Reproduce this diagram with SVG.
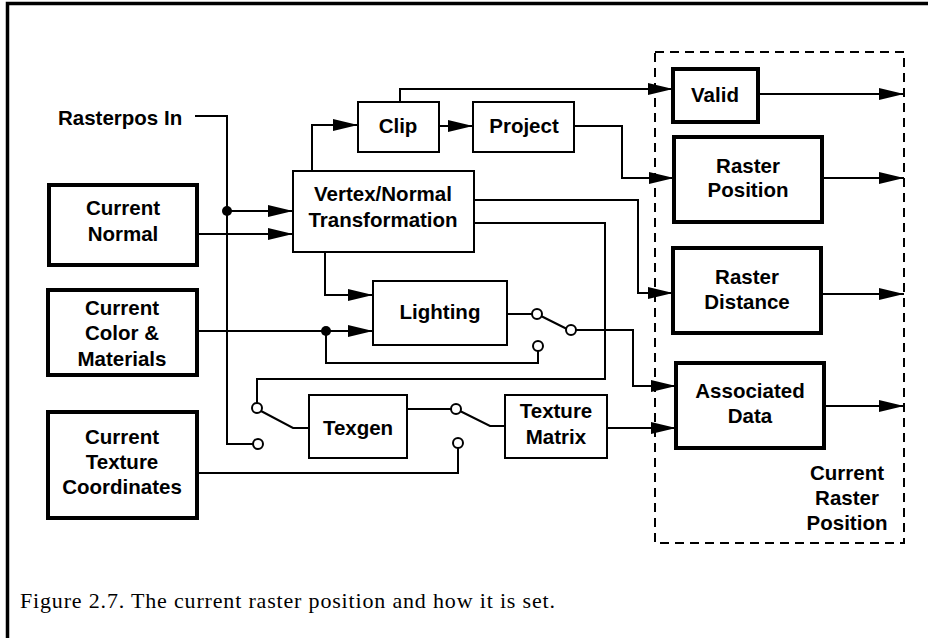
<svg xmlns="http://www.w3.org/2000/svg" width="928" height="638" viewBox="0 0 928 638">
<style>
.thin{fill:#fff;stroke:#000;stroke-width:2}
.thick{fill:#fff;stroke:#000;stroke-width:4}
.t{font-family:"Liberation Sans",Arial,sans-serif;font-weight:bold;font-size:20.5px;fill:#000;text-anchor:middle}
.w{fill:none;stroke:#000;stroke-width:2}
.a{fill:none;stroke:#000;stroke-width:2;marker-end:url(#ah)}
.sw{fill:#fff;stroke:#000;stroke-width:2}
</style>
<defs>
<marker id="ah" markerUnits="userSpaceOnUse" markerWidth="26" markerHeight="12" refX="25" refY="6" orient="auto" viewBox="0 0 26 12">
<path d="M0,0 L25,6 L0,12 z" fill="#000"/>
</marker>
</defs>
<rect width="928" height="638" fill="#fff"/>
<path d="M7.5,640 V3.5 H930" fill="none" stroke="#000" stroke-width="3.5"/>

<g id="connectors">
<path class="w" d="M195,116 H227 V444 H253"/>
<path class="a" d="M227,211 H293"/>
<path class="a" d="M197,234 H293"/>
<path class="a" d="M312,171 V125 H358"/>
<path class="a" d="M439,126 H473"/>
<path class="a" d="M400,102 V89 H673"/>
<path class="a" d="M574,126 H622 V178 H674"/>
<path class="a" d="M474,200 H638 V293 H673"/>
<path class="w" d="M474,223 H605 V379 H257 V403"/>
<path class="a" d="M325,252 V295 H373"/>
<path class="a" d="M197,331 H373"/>
<path class="w" d="M326,331 V363 H538 V351"/>
<path class="w" d="M507,314 H532"/>
<path class="w" d="M541,316 L567,329"/>
<path class="a" d="M576,330 H633 V386 H676"/>
<path class="w" d="M261,411 L293,428 H309"/>
<path class="w" d="M407,409 H451"/>
<path class="w" d="M460,411 L490,426 H505"/>
<path class="w" d="M197,473 H458 V448"/>
<path class="a" d="M607,428 H676"/>
<path class="a" d="M758,94 H904"/>
<path class="a" d="M822,178 H904"/>
<path class="a" d="M821,294 H904"/>
<path class="a" d="M824,406 H904"/>
<circle cx="227" cy="211" r="5" fill="#000"/>
<circle cx="326" cy="331" r="5" fill="#000"/>
<circle class="sw" cx="258" cy="444" r="5"/>
<circle class="sw" cx="257" cy="408" r="5"/>
<circle class="sw" cx="537" cy="314" r="5"/>
<circle class="sw" cx="571" cy="330" r="5"/>
<circle class="sw" cx="538" cy="346" r="5"/>
<circle class="sw" cx="456" cy="409" r="5"/>
<circle class="sw" cx="458" cy="443" r="5"/>
</g>

<g id="rasterpos-in"><text class="t" x="58" y="125" style="text-anchor:start">Rasterpos In</text></g>

<g id="current-normal">
<rect class="thick" x="49" y="185" width="148" height="80"/>
<text class="t" x="123" y="215">Current</text>
<text class="t" x="123" y="241">Normal</text>
</g>
<g id="current-color">
<rect class="thick" x="48" y="290" width="149" height="85"/>
<text class="t" x="122" y="315">Current</text>
<text class="t" x="122" y="340">Color &amp;</text>
<text class="t" x="122" y="366">Materials</text>
</g>
<g id="current-texcoords">
<rect class="thick" x="48" y="412" width="149" height="106"/>
<text class="t" x="122" y="444">Current</text>
<text class="t" x="122" y="469">Texture</text>
<text class="t" x="122" y="494">Coordinates</text>
</g>
<g id="vertex-normal">
<rect class="thin" x="293" y="171" width="181" height="81"/>
<text class="t" x="383" y="201">Vertex/Normal</text>
<text class="t" x="383" y="227">Transformation</text>
</g>
<g id="clip">
<rect class="thin" x="358" y="102" width="81" height="50"/>
<text class="t" x="398" y="133">Clip</text>
</g>
<g id="project">
<rect class="thin" x="473" y="102" width="101" height="50"/>
<text class="t" x="524" y="133">Project</text>
</g>
<g id="lighting">
<rect class="thin" x="373" y="281" width="134" height="64"/>
<text class="t" x="440" y="319">Lighting</text>
</g>
<g id="texgen">
<rect class="thin" x="309" y="395" width="98" height="63"/>
<text class="t" x="358" y="435">Texgen</text>
</g>
<g id="texture-matrix">
<rect class="thin" x="505" y="395" width="102" height="63"/>
<text class="t" x="556" y="418">Texture</text>
<text class="t" x="556" y="444">Matrix</text>
</g>
<g id="current-raster-position">
<rect x="655" y="52" width="249" height="491" fill="none" stroke="#000" stroke-width="2" stroke-dasharray="9 6"/>
<text class="t" x="847" y="480">Current</text>
<text class="t" x="847" y="505">Raster</text>
<text class="t" x="847" y="530">Position</text>
</g>
<g id="valid">
<rect class="thick" x="673" y="69" width="85" height="53"/>
<text class="t" x="715" y="102">Valid</text>
</g>
<g id="raster-position">
<rect class="thick" x="674" y="137" width="148" height="85"/>
<text class="t" x="748" y="173">Raster</text>
<text class="t" x="748" y="197">Position</text>
</g>
<g id="raster-distance">
<rect class="thick" x="673" y="248" width="148" height="85"/>
<text class="t" x="747" y="284">Raster</text>
<text class="t" x="747" y="309">Distance</text>
</g>
<g id="associated-data">
<rect class="thick" x="676" y="363" width="148" height="85"/>
<text class="t" x="750" y="398">Associated</text>
<text class="t" x="750" y="423">Data</text>
</g>
<text x="20" y="608" font-family="'Liberation Serif','Times New Roman',serif" font-size="22" fill="#000" textLength="535" lengthAdjust="spacing">Figure 2.7. The current raster position and how it is set.</text>
</svg>
